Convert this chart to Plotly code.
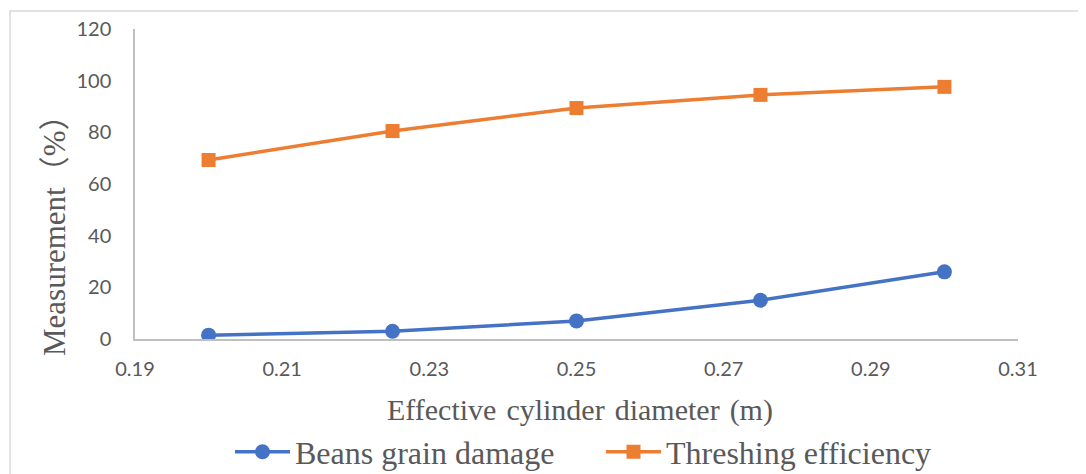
import plotly.graph_objects as go

diameter = [0.2, 0.225, 0.25, 0.275, 0.3]
grain_damage = [1.5, 3.0, 7.0, 15.0, 26.0]
threshing_eff = [69.3, 80.5, 89.4, 94.5, 97.6]

# page body has an 8px margin: work in reference pixels, shift by OFF
OFF = 8
W, H = 1086 - OFF, 474 - OFF
L = 135 - OFF
T = 29 - OFF
R = W - (1018 - OFF)
B = H - (339 - OFF)
pw, ph = W - L - R, H - T - B

fig = go.Figure()
fig.add_trace(go.Scatter(x=diameter, y=grain_damage, mode="lines+markers",
                         name="Beans grain damage",
                         line=dict(color="#4472C4", width=3.5),
                         marker=dict(symbol="circle", size=15, color="#4472C4")))
fig.add_trace(go.Scatter(x=diameter, y=threshing_eff, mode="lines+markers",
                         name="Threshing efficiency",
                         line=dict(color="#ED7D31", width=3.5),
                         marker=dict(symbol="square", size=14, color="#ED7D31")))

def px_x(p):
    return (p - OFF - L) / pw

def px_y(p):
    return (H - B - (p - OFF)) / ph

fig.add_shape(type="rect", xref="paper", yref="paper",
              x0=px_x(10), x1=px_x(1200), y0=px_y(11), y1=px_y(600),
              line=dict(color="#D9D9D9", width=1.5), fillcolor="rgba(0,0,0,0)",
              layer="below")

title_font = dict(family="Liberation Serif, Noto Sans CJK SC", size=30, color="#595959")
fig.add_annotation(text="Effective\u2004cylinder\u2004diameter\u2004(m)", xref="paper", yref="paper",
                   x=px_x(580), y=px_y(410), xanchor="center", yanchor="middle",
                   showarrow=False, font=title_font)
fig.add_annotation(text="Measurement\uff08%\uff09", xref="paper", yref="paper",
                   x=px_x(55), y=px_y(228), xanchor="center", yanchor="middle",
                   textangle=-90, showarrow=False,
                   font=dict(family="Liberation Serif, Noto Sans CJK SC", size=31, color="#595959"))

fig.update_layout(
    width=W, height=H,
    margin=dict(l=L, r=R, t=T, b=B, autoexpand=False),
    paper_bgcolor="white", plot_bgcolor="white",
    showlegend=True,
    legend=dict(orientation="h", x=px_x(230), xanchor="left", y=px_y(452), yanchor="middle",
                font=dict(family="Liberation Serif", size=32, color="#595959"),
                entrywidth=301, entrywidthmode="pixels",
                itemwidth=55, traceorder="normal"),
    xaxis=dict(range=[0.19, 0.31], tickvals=[0.19, 0.21, 0.23, 0.25, 0.27, 0.29, 0.31],
               ticktext=["0.19", "0.21", "0.23", "0.25", "0.27", "0.29", "0.31"],
               showgrid=False, zeroline=False, showline=True, linecolor="#BFBFBF", linewidth=1.5,
               ticks="", ticklen=0, ticklabelstandoff=11, automargin=False,
               tickfont=dict(family="Lato", size=20, color="#595959")),
    yaxis=dict(range=[0, 120], tickvals=[0, 20, 40, 60, 80, 100, 120],
               showgrid=False, zeroline=False, showline=True, linecolor="#BFBFBF", linewidth=1.5,
               ticks="", ticklen=0, ticklabelstandoff=18, automargin=False,
               tickfont=dict(family="Lato", size=20, color="#595959")),
)

fig.write_html("out.html")
